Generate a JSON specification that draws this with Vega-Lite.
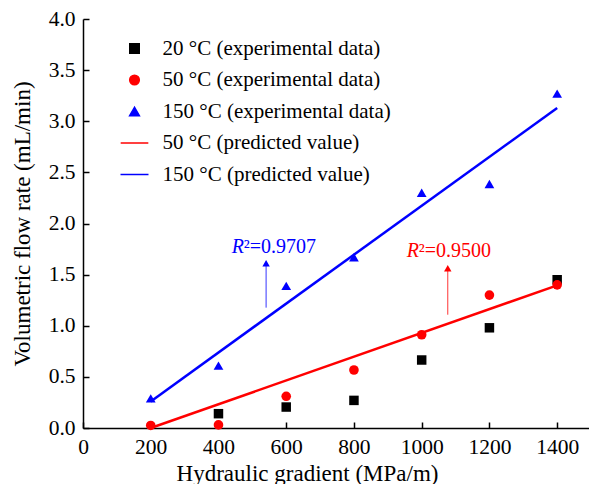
{
  "$schema": "https://vega.github.io/schema/vega-lite/v6.json",
  "width": 506,
  "height": 409,
  "autosize": {"type": "none"},
  "padding": {"left": 83, "top": 19, "right": 0, "bottom": 56},
  "background": "white",
  "config": {
    "view": {"stroke": null},
    "font": "Liberation Serif",
    "axis": {
      "grid": false,
      "domainColor": "black",
      "domainWidth": 1.5,
      "tickColor": "black",
      "tickWidth": 1.5,
      "tickSize": -6,
      "labelFont": "Liberation Serif",
      "labelFontSize": 21.5,
      "labelColor": "black",
      "labelFlush": false,
      "labelPadding": 14,
      "titleFont": "Liberation Serif",
      "titleFontSize": 23,
      "titleFontWeight": "normal",
      "titleColor": "black"
    }
  },
  "datasets": {
    "points": [
      {"x": 400, "y": 0.14, "series": "20 °C (experimental data)"},
      {"x": 600, "y": 0.205, "series": "20 °C (experimental data)"},
      {"x": 800, "y": 0.27, "series": "20 °C (experimental data)"},
      {"x": 1000, "y": 0.665, "series": "20 °C (experimental data)"},
      {"x": 1200, "y": 0.98, "series": "20 °C (experimental data)"},
      {"x": 1400, "y": 1.45, "series": "20 °C (experimental data)"},
      {"x": 200, "y": 0.025, "series": "50 °C (experimental data)"},
      {"x": 400, "y": 0.03, "series": "50 °C (experimental data)"},
      {"x": 600, "y": 0.31, "series": "50 °C (experimental data)"},
      {"x": 800, "y": 0.567, "series": "50 °C (experimental data)"},
      {"x": 1000, "y": 0.912, "series": "50 °C (experimental data)"},
      {"x": 1200, "y": 1.3, "series": "50 °C (experimental data)"},
      {"x": 1400, "y": 1.4, "series": "50 °C (experimental data)"},
      {"x": 200, "y": 0.29, "series": "150 °C (experimental data)"},
      {"x": 400, "y": 0.61, "series": "150 °C (experimental data)"},
      {"x": 600, "y": 1.39, "series": "150 °C (experimental data)"},
      {"x": 800, "y": 1.67, "series": "150 °C (experimental data)"},
      {"x": 1000, "y": 2.3, "series": "150 °C (experimental data)"},
      {"x": 1200, "y": 2.386, "series": "150 °C (experimental data)"},
      {"x": 1400, "y": 3.27, "series": "150 °C (experimental data)"}
    ],
    "fits": [
      {"x": 200, "y": 0.0, "series": "50 °C (predicted value)"},
      {"x": 1400, "y": 1.395, "series": "50 °C (predicted value)"},
      {"x": 200, "y": 0.26, "series": "150 °C (predicted value)"},
      {"x": 1400, "y": 3.13, "series": "150 °C (predicted value)"}
    ],
    "labels": [
      {"x": 439, "y": 1.712, "c": "#0000ff", "r": "R", "rest": "²=0.9707"},
      {"x": 956, "y": 1.668, "c": "#ff0000", "r": "R", "rest": "²=0.9500"}
    ],
    "arrows": [
      {"x": 540.6, "y1": 1.177, "y2": 1.59, "head": 1.612, "c": "#0000ff"},
      {"x": 1077, "y1": 1.108, "y2": 1.54, "head": 1.563, "c": "#ff0000"}
    ]
  },
  "layer": [
    {
      "mark": {"type": "rule", "color": "black", "strokeWidth": 1.5},
      "encoding": {"y": {"datum": 4, "type": "quantitative"}}
    },
    {
      "data": {"name": "fits"},
      "mark": {"type": "line", "strokeWidth": 2.5},
      "encoding": {
        "x": {"field": "x", "type": "quantitative"},
        "y": {"field": "y", "type": "quantitative"},
        "detail": {"field": "series"},
        "color": {"field": "series", "type": "nominal"}
      }
    },
    {
      "data": {"name": "points"},
      "mark": {"type": "point", "filled": true, "opacity": 1},
      "encoding": {
        "x": {
          "field": "x",
          "type": "quantitative",
          "scale": {"domain": [0, 1494], "nice": false, "zero": false},
          "axis": {
            "values": [0, 200, 400, 600, 800, 1000, 1200, 1400],
            "format": "d",
            "title": "Hydraulic gradient (MPa/m)",
            "titleX": 224,
            "titleY": 52,
            "titleBaseline": "alphabetic",
            "titleAnchor": null
          }
        },
        "y": {
          "field": "y",
          "type": "quantitative",
          "scale": {"domain": [0, 4], "nice": false},
          "axis": {
            "values": [0, 0.5, 1, 1.5, 2, 2.5, 3, 3.5, 4],
            "format": ".1f",
            "title": "Volumetric flow rate (mL/min)",
            "titlePadding": 14
          }
        },
        "color": {
          "field": "series",
          "type": "nominal",
          "scale": {
            "domain": ["20 °C (experimental data)", "50 °C (experimental data)", "150 °C (experimental data)", "50 °C (predicted value)", "150 °C (predicted value)"],
            "range": ["#000000", "#ff0000", "#0000ff", "#ff0000", "#0000ff"]
          },
          "legend": {
            "orient": "none",
            "legendX": 41,
            "legendY": 19,
            "title": null,
            "labelFont": "Liberation Serif",
            "labelFontSize": 21,
            "labelColor": "black",
            "labelLimit": 400,
            "rowPadding": 9.5,
            "labelOffset": 17.5,
            "encode": {
              "symbols": {
                "update": {
                  "stroke": {"scale": "color", "field": "value"},
                  "strokeWidth": {"signal": "indexof(datum.value, 'predicted') >= 0 ? 2.5 : 0"}
                }
              }
            }
          }
        },
        "shape": {
          "field": "series",
          "type": "nominal",
          "scale": {
            "domain": ["20 °C (experimental data)", "50 °C (experimental data)", "150 °C (experimental data)", "50 °C (predicted value)", "150 °C (predicted value)"],
            "range": ["square", "circle", "triangle-up", "M-2.8,0L2.8,0", "M-2.8,0L2.8,0"]
          },
          "legend": {
            "orient": "none",
            "legendX": 41,
            "legendY": 19,
            "title": null,
            "encode": {
              "symbols": {
                "update": {
                  "stroke": {"scale": "color", "field": "value"},
                  "strokeWidth": {"signal": "indexof(datum.value, 'predicted') >= 0 ? 2.5 : 0"}
                }
              }
            }
          }
        },
        "size": {
          "field": "series",
          "type": "nominal",
          "scale": {
            "domain": ["20 °C (experimental data)", "50 °C (experimental data)", "150 °C (experimental data)", "50 °C (predicted value)", "150 °C (predicted value)"],
            "range": [90, 100, 160, 100, 100]
          },
          "legend": {
            "orient": "none",
            "legendX": 41,
            "legendY": 19,
            "title": null
          }
        }
      }
    },
    {
      "data": {"name": "arrows"},
      "mark": {"type": "rule", "strokeWidth": 1, "opacity": 0.8},
      "encoding": {
        "x": {"field": "x", "type": "quantitative"},
        "y": {"field": "y1", "type": "quantitative"},
        "y2": {"field": "y2"},
        "color": {"field": "c", "type": "nominal", "scale": null}
      }
    },
    {
      "data": {"name": "arrows"},
      "mark": {"type": "point", "shape": "triangle-up", "filled": true, "size": 55, "opacity": 1},
      "encoding": {
        "x": {"field": "x", "type": "quantitative"},
        "y": {"field": "head", "type": "quantitative"},
        "color": {"field": "c", "type": "nominal", "scale": null}
      }
    },
    {
      "data": {"name": "labels"},
      "mark": {"type": "text", "font": "Liberation Serif", "fontSize": 20, "fontStyle": "italic", "align": "left", "baseline": "alphabetic"},
      "encoding": {
        "x": {"field": "x", "type": "quantitative"},
        "y": {"field": "y", "type": "quantitative"},
        "text": {"field": "r"},
        "color": {"field": "c", "type": "nominal", "scale": null}
      }
    },
    {
      "data": {"name": "labels"},
      "mark": {"type": "text", "font": "Liberation Serif", "fontSize": 20, "align": "left", "baseline": "alphabetic", "dx": 12},
      "encoding": {
        "x": {"field": "x", "type": "quantitative"},
        "y": {"field": "y", "type": "quantitative"},
        "text": {"field": "rest"},
        "color": {"field": "c", "type": "nominal", "scale": null}
      }
    }
  ]
}
